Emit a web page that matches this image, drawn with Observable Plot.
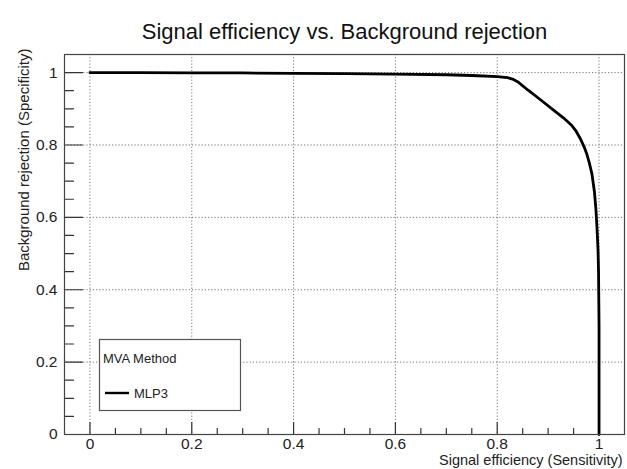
<!DOCTYPE html>
<html>
<head>
<meta charset="utf-8">
<script src="https://cdn.jsdelivr.net/npm/d3@7"></script>
<script src="https://cdn.jsdelivr.net/npm/@observablehq/plot@0.6"></script>
<style>
  html, body { margin: 0; padding: 0; background: #fff; }
  #chart { width: 627px; height: 469px; }
  svg { font-family: "Liberation Sans", Arial, Helvetica, sans-serif; }
</style>
</head>
<body>
<div id="chart"></div>
<script>
// ---- data ----
const title = "Signal efficiency vs. Background rejection";
const xLabel = "Signal efficiency (Sensitivity)";
const yLabel = "Background rejection (Specificity)";
const seriesName = "MLP3";
const legendHeader = "MVA Method";

const sigEff = [0, 0.1, 0.2, 0.3, 0.4, 0.5, 0.6, 0.7, 0.75, 0.8, 0.82, 0.83, 0.84, 0.86, 0.885, 0.91, 0.93, 0.945, 0.955, 0.963, 0.97, 0.976, 0.981, 0.986, 0.991, 0.994, 0.996, 0.998, 0.999, 1.0, 1.0];
const bkgRej = [1.0, 1.0, 0.999, 0.999, 0.998, 0.997, 0.996, 0.994, 0.992, 0.989, 0.986, 0.982, 0.975, 0.952, 0.925, 0.897, 0.875, 0.856, 0.838, 0.818, 0.797, 0.775, 0.75, 0.72, 0.67, 0.62, 0.57, 0.51, 0.45, 0.3, 0.0];

const majorTicks = [0, 0.2, 0.4, 0.6, 0.8, 1];
const minorTicks = [0.05, 0.1, 0.15, 0.25, 0.3, 0.35, 0.45, 0.5, 0.55, 0.65, 0.7, 0.75, 0.85, 0.9, 0.95];
const tickLabels = ["0", "0.2", "0.4", "0.6", "0.8", "1"];

const roc = sigEff.map((x, i) => ({x, y: bkgRej[i]}));

const tickShape = {draw(ctx, l) { ctx.moveTo(0, 0); ctx.lineTo(0, -l); }};
const fmt = d => tickLabels[majorTicks.indexOf(d)] ?? "";
const FONT = "Liberation Sans, Arial, sans-serif";

const plot = Plot.plot({
  width: 627,
  height: 469,
  marginLeft: 64,
  marginRight: 3,
  marginTop: 54,
  marginBottom: 35,
  style: {fontFamily: FONT, fontSize: "15.5px", color: "#222", background: "#fff"},
  x: {domain: [-0.05, 1.05]},
  y: {domain: [0, 1.05]},
  marks: [
    Plot.gridX(majorTicks, {stroke: "#777", strokeOpacity: 1, strokeDasharray: "1.2,2"}),
    Plot.gridY(majorTicks, {stroke: "#777", strokeOpacity: 1, strokeDasharray: "1.2,2"}),
    // ticks inside frame (ROOT style)
    Plot.vector(majorTicks, {x: d => d, frameAnchor: "bottom", length: 12, anchor: "start", rotate: 0, shape: tickShape, stroke: "#333", strokeWidth: 1.2}),
    Plot.vector(minorTicks, {x: d => d, frameAnchor: "bottom", length: 6, anchor: "start", rotate: 0, shape: tickShape, stroke: "#333", strokeWidth: 1.2}),
    Plot.vector(majorTicks, {y: d => d, frameAnchor: "left", length: 18, anchor: "start", rotate: 90, shape: tickShape, stroke: "#333", strokeWidth: 1.2}),
    Plot.vector(minorTicks, {y: d => d, frameAnchor: "left", length: 9, anchor: "start", rotate: 90, shape: tickShape, stroke: "#333", strokeWidth: 1.2}),
    Plot.axisX(majorTicks, {tickSize: 0, tickPadding: 3, tickFormat: fmt, fontSize: 15.5, fill: "#222", label: null}),
    Plot.axisY(majorTicks, {tickSize: 0, tickPadding: 7, tickFormat: fmt, fontSize: 15.5, fill: "#222", label: null}),
    Plot.line(roc, {x: "x", y: "y", stroke: "#000", strokeWidth: 2.8, strokeLinejoin: "round"}),
    Plot.frame({stroke: "#444", strokeWidth: 1.2}),
    Plot.text([title], {frameAnchor: "top", dy: -31, text: d => d, fontSize: 22, fill: "#111"}),
    Plot.text([xLabel], {frameAnchor: "bottom-right", dx: -2, dy: 30.5, textAnchor: "end", text: d => d, fontSize: 14.5, fill: "#222"}),
    Plot.text([yLabel], {frameAnchor: "top-left", dx: -46, dy: -6, rotate: -90, textAnchor: "end", text: d => d, fontSize: 15, fill: "#222"})
  ]
});

document.getElementById("chart").appendChild(plot);

// legend box (ROOT TLegend style)
const svg = d3.select(plot);
const lg = svg.append("g").attr("font-family", FONT).attr("text-anchor", "start");
lg.append("rect").attr("x", 99.5).attr("y", 339.5).attr("width", 141).attr("height", 71)
  .attr("fill", "#fff").attr("stroke", "#555").attr("stroke-width", 1.2);
lg.append("text").attr("x", 103).attr("y", 363).attr("font-size", 13).attr("fill", "#222").text(legendHeader);
lg.append("line").attr("x1", 105).attr("x2", 129).attr("y1", 393).attr("y2", 393)
  .attr("stroke", "#000").attr("stroke-width", 2.4);
lg.append("text").attr("x", 134).attr("y", 397.5).attr("font-size", 13).attr("fill", "#222").text(seriesName);
</script>
</body>
</html>
